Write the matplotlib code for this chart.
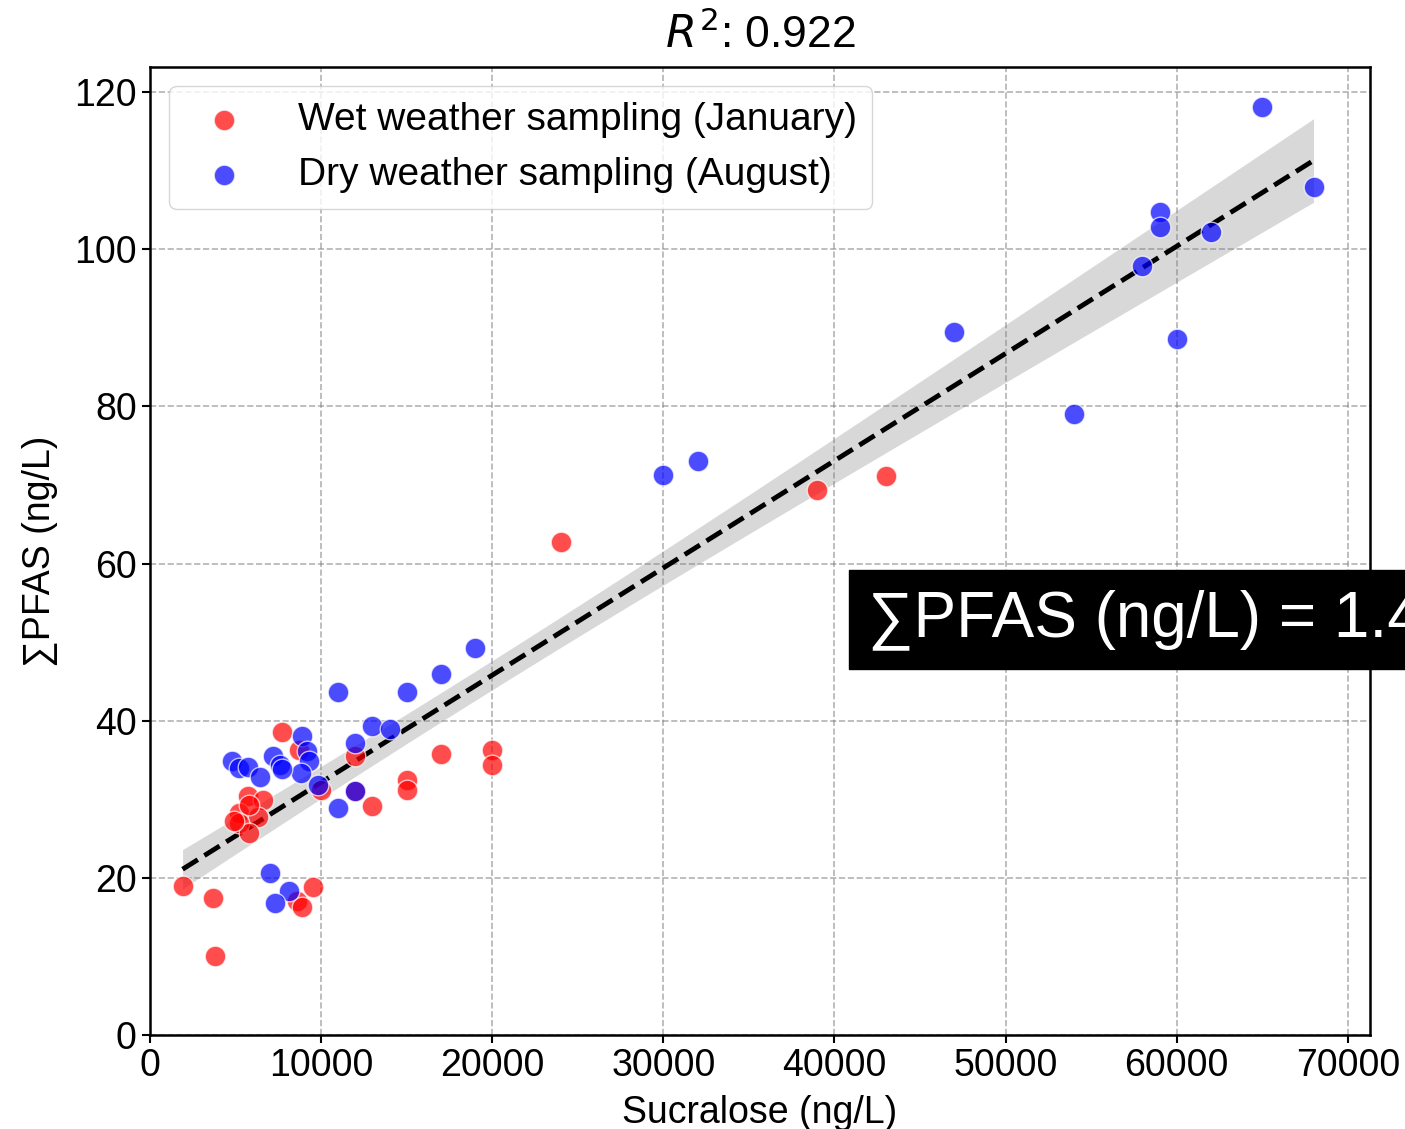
import numpy as np
import matplotlib.pyplot as plt

plt.rcParams['font.family'] = ['Liberation Sans', 'DejaVu Sans']

# wet weather sampling (January)
wet_x = [7700, 8700, 12000, 17000, 20000, 20000, 15000, 15000, 13000, 10000,
         12000, 5700, 6600, 5200, 6300, 5200, 5800, 4900, 5800, 1900,
         3700, 3800, 9500, 8600, 8900, 24000, 39000, 43000]
wet_y = [38.5, 36.3, 35.5, 35.7, 36.3, 34.4, 32.5, 31.2, 29.2, 31.2,
         31.0, 30.4, 29.9, 28.2, 27.8, 27.0, 25.7, 27.2, 29.3, 19.0,
         17.4, 10.0, 18.8, 17.0, 16.3, 62.7, 69.3, 71.1]

# dry weather sampling (August)
dry_x = [8900, 9200, 9300, 8800, 7200, 7600, 7700, 4800, 5200, 5700,
         6400, 9800, 12000, 11000, 12000, 13000, 14000, 11000, 15000, 7000,
         8100, 7300, 17000, 19000, 30000, 32000, 47000, 54000, 59000, 59000,
         58000, 62000, 60000, 65000, 68000]
dry_y = [38.0, 36.1, 34.9, 33.4, 35.5, 34.3, 33.8, 34.9, 34.0, 34.1,
         32.8, 31.8, 31.0, 28.9, 37.2, 39.3, 38.9, 43.7, 43.7, 20.6,
         18.3, 16.8, 45.9, 49.3, 71.3, 73.1, 89.5, 79.0, 104.7, 102.8,
         97.9, 102.2, 88.6, 118.1, 107.9]

x = np.array(wet_x + dry_x, dtype=float)
y = np.array(wet_y + dry_y, dtype=float)

# linear fit + 95% confidence band
slope, intercept = np.polyfit(x, y, 1)
n = len(x)
resid = y - (slope * x + intercept)
s_err = np.sqrt(np.sum(resid ** 2) / (n - 2))
xs = np.linspace(x.min(), x.max(), 200)
ys = slope * xs + intercept
ci = 1.99 * s_err * np.sqrt(1 / n + (xs - x.mean()) ** 2 / np.sum((x - x.mean()) ** 2))

fig = plt.figure(figsize=(14.05, 11.29), dpi=100)
ax = fig.add_axes([0.1068, 0.0833, 0.8683, 0.8574])

ax.fill_between(xs, ys - ci, ys + ci, color='gray', alpha=0.3, lw=0, zorder=1)
ax.plot(xs, ys, 'k--', lw=3.5, zorder=2)

ax.scatter(wet_x, wet_y, s=220, c='red', alpha=0.7, edgecolors='white', linewidths=1,
           label='Wet weather sampling (January)', zorder=3)
ax.scatter(dry_x, dry_y, s=220, c='blue', alpha=0.7, edgecolors='white', linewidths=1,
           label='Dry weather sampling (August)', zorder=3)

ax.set_xlim(0, 71300)
ax.set_ylim(0, 123.2)
ax.set_xticks(range(0, 70001, 10000))
ax.set_yticks(range(0, 121, 20))
ax.tick_params(labelsize=27, width=1.5, length=6)
ax.grid(True, ls='--', color='gray', alpha=0.6, lw=1.2)
for sp in ax.spines.values():
    sp.set_linewidth(1.8)

ax.set_xlabel('Sucralose (ng/L)', fontsize=27, labelpad=8)
ax.set_ylabel('∑PFAS (ng/L)', fontsize=27, labelpad=12)
ax.set_title(r'$R^2$: 0.922', fontsize=32, pad=14)

leg = ax.legend(loc='upper left', fontsize=28, markerscale=1.0, borderpad=0.4,
                handletextpad=0.9, framealpha=0.8)

fig.text(0.618, 0.451, '∑PFAS (ng/L) = 1.4', fontsize=46,
         color='white', va='center', ha='left',
         bbox=dict(boxstyle='square,pad=0.3', fc='black', ec='black'))

fig.savefig('out.png', dpi=100)
